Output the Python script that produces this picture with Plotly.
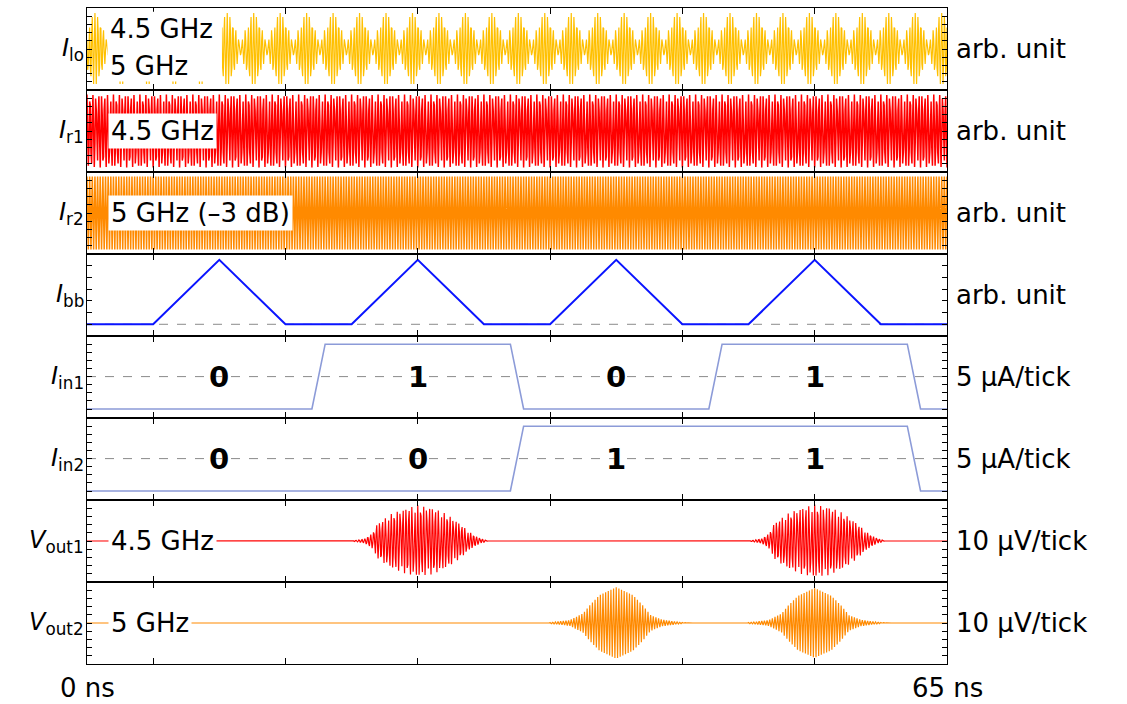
import numpy as np
import plotly.graph_objects as go
from plotly.subplots import make_subplots

# ---- time base -------------------------------------------------------------
T_END = 65.0      # ns
DT = 0.05         # ns, simulator output step
F_R1 = 4.5        # GHz, resonator 1
F_R2 = 5.0        # GHz, resonator 2

# ---- local-oscillator and resonator drives (arb. unit) ---------------------
LO_AMP_R1 = 2.6           # 4.5 GHz component
LO_AMP_R2 = 1.84          # 5 GHz component (-3 dB)
LO_PHASE_T = 0.6          # ns, time of first in-phase beat
R1_AMP = 4.5
R2_AMP = 4.5

# ---- baseband pulse train (arb. unit) --------------------------------------
bb_t = [0, 5, 10, 15, 20, 25, 30, 35, 40, 45, 50, 55, 60, 65]
bb_v = [0, 0, 5.5, 0, 0, 5.5, 0, 0, 5.5, 0, 0, 5.5, 0, 0]

# ---- digital inputs (uA) ---------------------------------------------------
in1_t = [0, 17, 18, 32, 33, 47, 48, 62, 63, 65]
in1_v = [0, 0, 40, 40, 0, 0, 40, 40, 0, 0]
in2_t = [0, 32, 33, 62, 63, 65]
in2_v = [0, 0, 40, 40, 0, 0]
IN_MID = 20
bit_t = [10, 25, 40, 55]
in1_bits = ["0", "1", "0", "1"]
in2_bits = ["0", "0", "1", "1"]

# ---- output bursts (uV) ----------------------------------------------------
out1_centers = [25, 55]
out1_peaks = [44, 45]
out2_centers = [40, 55]
out2_peaks = [44, 43]
# burst envelopes: offset from burst centre (ns) -> relative amplitude
env1_dt = [-5.3, -4.6, -4.0, -3.4, -3.2, -2.65, -1.9, -0.83, 0, 1.19, 2.2, 3.2, 3.9, 4.5, 5.3]
env1_rel = [0.0, 0.02, 0.065, 0.22, 0.43, 0.6, 0.78, 0.93, 1.0, 0.93, 0.75, 0.49, 0.25, 0.11, 0.0]
env2_dt = [-5.5, -4.8, -3.5, -2.5, -2.0, -1.26, 0, 1.26, 2.0, 2.6, 3.5, 4.8, 5.5]
env2_rel = [0.0, 0.02, 0.08, 0.27, 0.5, 0.78, 1.0, 0.78, 0.5, 0.22, 0.09, 0.02, 0.0]

# ---- labels ----------------------------------------------------------------
left_labels = ["<i>I</i><sub>lo</sub>", "<i>I</i><sub>r1</sub>", "<i>I</i><sub>r2</sub>",
               "<i>I</i><sub>bb</sub>", "<i>I</i><sub>in1</sub>", "<i>I</i><sub>in2</sub>",
               "<i>V</i><sub>out1</sub>", "<i>V</i><sub>out2</sub>"]
right_labels = ["arb. unit", "arb. unit", "arb. unit", "arb. unit",
                "5 µA/tick", "5 µA/tick", "10 µV/tick", "10 µV/tick"]

FONT = "DejaVu Sans"
TXT = 26
C_LO = "#FFC000"
C_R1 = "#FF0000"
C_R2 = "#FF8A00"
C_BB = "#0A14FF"
C_IN = "#8C9BD8"
C_DASH = "#8A8A8A"

t = np.arange(0, T_END + DT / 2, DT)
w1 = 2 * np.pi * F_R1
w2 = 2 * np.pi * F_R2

lo = LO_AMP_R1 * np.cos(w1 * (t - LO_PHASE_T)) + LO_AMP_R2 * np.cos(w2 * (t - LO_PHASE_T))
r1 = R1_AMP * np.cos(w1 * t)
r2 = R2_AMP * np.cos(w2 * t)


def burst_train(centers, peaks, env_dt, env_rel, w):
    sig = np.zeros_like(t)
    for c, p in zip(centers, peaks):
        env = p * np.interp(t - c, env_dt, env_rel, left=0.0, right=0.0)
        sig += env * np.cos(w * (t - c))
    return sig


out1 = burst_train(out1_centers, out1_peaks, env1_dt, env1_rel, w1)
out2 = burst_train(out2_centers, out2_peaks, env2_dt, env2_rel, w2)

fig = make_subplots(rows=8, cols=1, shared_xaxes=True, vertical_spacing=0)

# dashed reference levels
fig.add_trace(go.Scatter(x=[0, T_END], y=[0, 0], mode="lines",
                         line=dict(color=C_DASH, width=1, dash="dash")), row=4, col=1)
for r in (5, 6):
    fig.add_trace(go.Scatter(x=[0, T_END], y=[IN_MID, IN_MID], mode="lines",
                             line=dict(color=C_DASH, width=1, dash="dash")), row=r, col=1)

fig.add_trace(go.Scatter(x=t, y=lo, mode="lines", line=dict(color=C_LO, width=1.2)), row=1, col=1)
fig.add_trace(go.Scatter(x=t, y=r1, mode="lines", line=dict(color=C_R1, width=1.5)), row=2, col=1)
fig.add_trace(go.Scatter(x=t, y=r2, mode="lines", line=dict(color=C_R2, width=1.5)), row=3, col=1)
fig.add_trace(go.Scatter(x=bb_t, y=bb_v, mode="lines", line=dict(color=C_BB, width=2)), row=4, col=1)
fig.add_trace(go.Scatter(x=in1_t, y=in1_v, mode="lines", line=dict(color=C_IN, width=1.6)), row=5, col=1)
fig.add_trace(go.Scatter(x=in2_t, y=in2_v, mode="lines", line=dict(color=C_IN, width=1.6)), row=6, col=1)
fig.add_trace(go.Scatter(x=t, y=out1, mode="lines", line=dict(color=C_R1, width=1.2)), row=7, col=1)
fig.add_trace(go.Scatter(x=t, y=out2, mode="lines", line=dict(color=C_R2, width=1.2)), row=8, col=1)

axis_common = dict(showline=True, linecolor="black", linewidth=1, mirror="allticks",
                   ticks="inside", tickcolor="black", showticklabels=False,
                   showgrid=False, zeroline=False)

fig.update_xaxes(range=[0, T_END], tick0=5, dtick=10, ticklen=6, tickwidth=1.2, **axis_common)

y_ranges = [[-5.06, 5.06]] * 3 + [[-1, 6]] + [[-5.55, 45.06]] * 2 + [[-50.6, 50.6]] * 2
y_dticks = [1, 1, 1, 1, 5, 5, 10, 10]
for i in range(8):
    fig.update_yaxes(range=y_ranges[i], tick0=0, dtick=y_dticks[i], ticklen=5, tickwidth=1,
                     row=i + 1, col=1, **axis_common)

ann = []
for i in range(8):
    yref = "y domain" if i == 0 else f"y{i + 1} domain"
    ann.append(dict(text=left_labels[i], xref="paper", yref=yref, x=0, y=0.5,
                    xanchor="right", yanchor="middle", xshift=-1, showarrow=False,
                    font=dict(family=FONT, size=24, color="black")))
    ann.append(dict(text=right_labels[i], xref="paper", yref=yref, x=1, y=0.5,
                    xanchor="left", yanchor="middle", xshift=7, showarrow=False,
                    font=dict(family=FONT, size=TXT, color="black")))

# white backing behind the LO tone labels
fig.add_shape(type="rect", xref="x", yref="y", x0=1.55, x1=10.2, y0=-4.0, y1=4.6,
              fillcolor="white", line=dict(width=0), layer="above")
ann.append(dict(text="4.5 GHz", xref="x", yref="y", x=1.6, y=2.5, xanchor="left",
                yanchor="middle", showarrow=False, font=dict(family=FONT, size=TXT, color="black")))
ann.append(dict(text="5 GHz", xref="x", yref="y", x=1.6, y=-2.15, xanchor="left",
                yanchor="middle", showarrow=False, font=dict(family=FONT, size=TXT, color="black")))

tone_tags = [("4.5 GHz", "y2", 0), ("5 GHz (–3 dB)", "y3", 0),
             ("4.5 GHz", "y7", 0), ("5 GHz", "y8", 0)]
for txt, yr, yv in tone_tags:
    ann.append(dict(text=txt, xref="x", yref=yr, x=1.55, y=yv, xanchor="left", yanchor="middle",
                    showarrow=False, bgcolor="white", borderpad=2,
                    font=dict(family=FONT, size=TXT, color="black")))

for bt, b1, b2 in zip(bit_t, in1_bits, in2_bits):
    ann.append(dict(text=b1, xref="x", yref="y5", x=bt, y=IN_MID, showarrow=False,
                    font=dict(family=FONT, size=29, color="black", weight="bold")))
    ann.append(dict(text=b2, xref="x", yref="y6", x=bt, y=IN_MID, showarrow=False,
                    font=dict(family=FONT, size=29, color="black", weight="bold")))

for xv, txt in [(0, "0 ns"), (T_END, "65 ns")]:
    ann.append(dict(text=txt, xref="x", yref="paper", x=xv, y=-0.037, xanchor="center",
                    yanchor="middle", showarrow=False, font=dict(family=FONT, size=TXT, color="black")))

fig.update_layout(width=1127, height=704, margin=dict(l=87, r=180, t=8, b=40),
                  paper_bgcolor="white", plot_bgcolor="white", showlegend=False,
                  annotations=ann)

fig.write_html("out.html")
